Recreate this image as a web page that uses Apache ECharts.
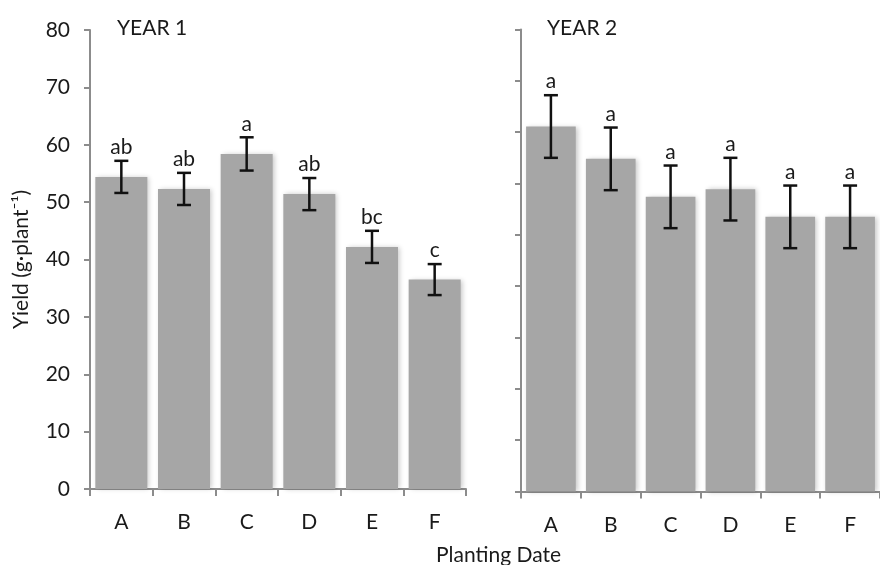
<!DOCTYPE html>
<html>
<head>
<meta charset="utf-8">
<script src="https://cdn.jsdelivr.net/npm/echarts@6/dist/echarts.min.js"></script>
<style>html,body{margin:0;padding:0;background:#fff}#c{width:880px;height:565px}</style>
</head>
<body>
<div id="c"></div>
<script>
var categories = ['A', 'B', 'C', 'D', 'E', 'F'];
var year1Values = [54.4, 52.3, 58.4, 51.4, 42.2, 36.5];
var year1Errors = [2.8, 2.8, 2.9, 2.8, 2.8, 2.7];
var year1Letters = ['ab', 'ab', 'a', 'ab', 'bc', 'c'];
var year2Values = [71.1, 64.8, 57.4, 58.9, 53.5, 53.5];
var year2Errors = [6.1, 6.1, 6.1, 6.1, 6.1, 6.1];
var year2Letters = ['a', 'a', 'a', 'a', 'a', 'a'];
var yTicks1 = [0, 10, 20, 30, 40, 50, 60, 70, 80];

var FONT = 'Lato, "Open Sans", sans-serif';
var TXT = '#1a1a1a';
var AX = '#8c8c8c';

function errData(vals, errs, letters) {
  return vals.map(function (v, i) { return [i, v - errs[i], v + errs[i], letters[i]]; });
}

function errSeries(xi, data) {
  return {
    type: 'custom', xAxisIndex: xi, yAxisIndex: xi, z: 5,
    data: data,
    renderItem: function (params, api) {
      var x = api.value(0);
      var lo = api.coord([x, api.value(1)]);
      var hi = api.coord([x, api.value(2)]);
      var cap = 7;
      var st = { stroke: '#111', lineWidth: 2.5 };
      return {
        type: 'group',
        children: [
          { type: 'line', shape: { x1: hi[0], y1: hi[1], x2: lo[0], y2: lo[1] }, style: st },
          { type: 'line', shape: { x1: hi[0] - cap, y1: hi[1], x2: hi[0] + cap, y2: hi[1] }, style: st },
          { type: 'line', shape: { x1: lo[0] - cap, y1: lo[1], x2: lo[0] + cap, y2: lo[1] }, style: st },
          { type: 'text', style: { text: api.value(3), x: hi[0], y: hi[1] - 3, align: 'center', verticalAlign: 'bottom',
            fill: TXT, font: '21px ' + FONT } }
        ]
      };
    }
  };
}

function barSeries(xi, vals) {
  return {
    type: 'bar', xAxisIndex: xi, yAxisIndex: xi, data: vals,
    barCategoryGap: '17%',
    itemStyle: { color: '#a6a6a6', shadowColor: 'rgba(0,0,0,0.22)', shadowBlur: 5, shadowOffsetX: 2, shadowOffsetY: 0 }
  };
}

var xAxisBase = {
  type: 'category', data: categories,
  axisLine: { lineStyle: { color: AX, width: 2 } },
  axisTick: { show: true, length: 7, lineStyle: { color: AX, width: 2 } },
  axisLabel: { color: TXT, fontSize: 21, fontFamily: FONT, margin: 23 }
};

var chart = echarts.init(document.getElementById('c'));
chart.setOption({
  animation: false,
  backgroundColor: '#fff',
  title: [
    { text: 'YEAR 1', left: 112, top: 13, textStyle: { fontSize: 21, fontWeight: 'normal', color: TXT, fontFamily: FONT } },
    { text: 'YEAR 2', left: 542, top: 13, textStyle: { fontSize: 21, fontWeight: 'normal', color: TXT, fontFamily: FONT } },
    { text: 'Planting Date', left: 431, top: 540, textStyle: { fontSize: 21, fontWeight: 'normal', color: TXT, fontFamily: FONT } }
  ],
  grid: [
    { left: 90, top: 30, width: 376, height: 459 },
    { left: 521, top: 29.5, width: 366, height: 462 }
  ],
  xAxis: [
    Object.assign({ gridIndex: 0 }, xAxisBase),
    Object.assign({ gridIndex: 1 }, xAxisBase)
  ],
  yAxis: [
    {
      gridIndex: 0, type: 'value', min: 0, max: 80, interval: 10,
      splitLine: { show: false },
      axisLine: { show: true, lineStyle: { color: AX, width: 2 } },
      axisTick: { show: true, length: 6, lineStyle: { color: AX, width: 2 } },
      axisLabel: { color: TXT, fontSize: 21, fontFamily: FONT, margin: 20,
        formatter: function (v) { return yTicks1.indexOf(v) >= 0 ? String(v) : ''; } },
      name: 'Yield (g·plant⁻¹)', nameLocation: 'middle', nameGap: 58,
      nameTextStyle: { color: TXT, fontSize: 21, fontFamily: FONT }
    },
    {
      gridIndex: 1, type: 'value', min: 0, max: 90, interval: 10,
      splitLine: { show: false },
      axisLine: { show: true, lineStyle: { color: AX, width: 2 } },
      axisTick: { show: true, length: 6, lineStyle: { color: AX, width: 2 } },
      axisLabel: { show: false }
    }
  ],
  series: [
    barSeries(0, year1Values),
    errSeries(0, errData(year1Values, year1Errors, year1Letters)),
    barSeries(1, year2Values),
    errSeries(1, errData(year2Values, year2Errors, year2Letters))
  ]
});
</script>
</body>
</html>
